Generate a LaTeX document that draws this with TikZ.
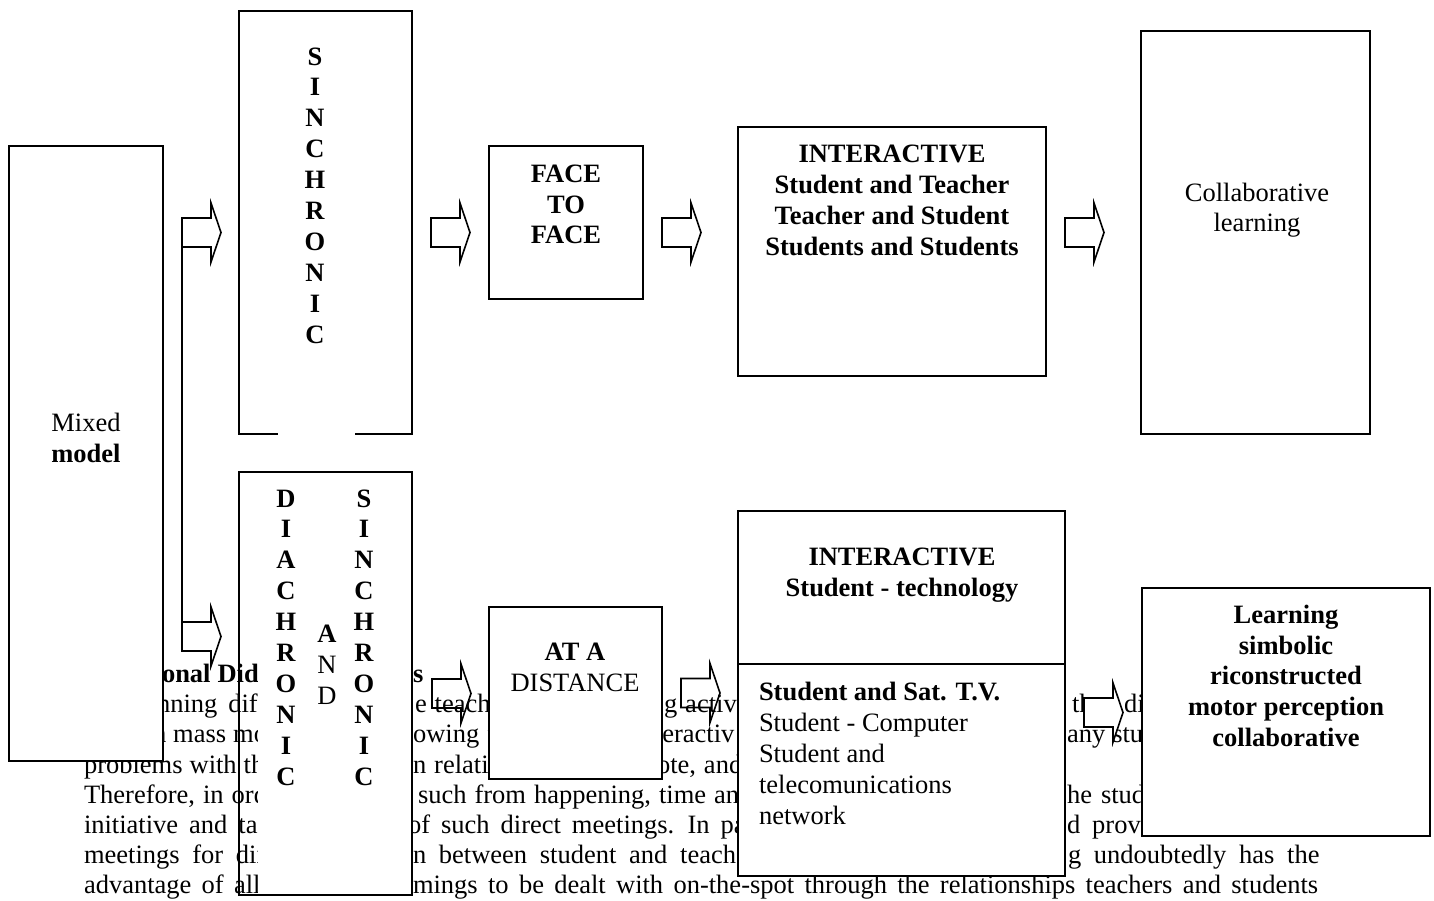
\documentclass[tikz,border=0pt]{standalone}
\usepackage{fontspec}
\setmainfont{Liberation Serif}
\usetikzlibrary{calc}
\newcommand\fs{\fontsize{26.5}{30.8}\selectfont}
\tikzset{
  boxr/.style={draw=black, line width=1.8pt, fill=white, inner sep=0pt, outer sep=0pt, anchor=north west},
  lbl/.style={inner sep=0pt, outer sep=0pt, anchor=base, font=\fs},
  lblb/.style={inner sep=0pt, outer sep=0pt, anchor=base, font=\fs\bfseries},
  lbll/.style={inner sep=0pt, outer sep=0pt, anchor=base west, font=\fs},
  bgt/.style={inner sep=0pt, outer sep=0pt, anchor=base west, font=\fs},
  barrow/.style={draw=black, line width=1.6pt, line join=miter},
  divl/.style={draw=black, line width=1.8pt},
}
\newcommand\frag[5]{\node[bgt] (#1) at (#2,#3) {\spaceskip=#4pt\relax #5};}
\newcommand\blockarrow[4]{%
  \draw[barrow, fill=#4] (#2,#3-14.5) -- ++(29,0) -- ++(0,-15) -- ++(10,29.5) coordinate (#1) -- ++(-10,29.5) -- ++(0,-15) -- ++(-29,0) -- cycle;}
\begin{document}
\begin{tikzpicture}[x=1pt,y=-1pt]
\fill[white] (0,0) rectangle (1434,900);
\useasboundingbox (0,0) rectangle (1434,900);

% ---------- background paragraph fragments ----------
\frag{h1a}{162}{682}{7}{\bfseries onal Did}
\frag{h1b}{413}{682}{7}{\bfseries s}
\frag{l2a}{157}{712}{11}{nning dif}
\frag{l2b}{415}{712}{8}{e teachi}
\frag{l2c}{664}{712}{8}{g activit}
\frag{l2d}{1072}{712}{8}{th}
\frag{l2e}{1124}{712}{8}{di}
\frag{l3a}{153}{742.5}{7}{h mass mo}
\frag{l3b}{413}{742.5}{8}{owing f}
\frag{l3c}{655}{742.5}{8}{teractiv}
\frag{l3d}{1067}{742.5}{7}{any stu}
\frag{l4a}{84}{773}{7}{problems with th}
\frag{l4b}{413}{773}{8}{n relati}
\frag{l4c}{657}{773}{8}{ote, and}
\frag{l5a}{84}{803}{8}{Therefore, in ord}
\frag{l5b}{418}{803}{8}{such from happening, time and}
\frag{l5c}{1067}{803}{9}{he stud}
\frag{l6a}{84}{833}{11}{initiative and tal}
\frag{l6b}{408}{833}{11}{of such direct meetings. In pa}
\frag{l6c}{1067}{833}{12}{d provi}
\frag{l7a}{84}{863}{12.7}{meetings for dir}
\frag{l7b}{413}{863}{12.7}{n between student and teache}
\frag{l7c}{1068}{863}{12.7}{g undoubtedly has the}
\frag{l8a}{84}{893}{10.3}{advantage of all}
\frag{l8b}{413}{893}{10.3}{mings to be dealt with on-the-spot through the relationships teachers and students}

% ---------- boxes ----------
\node[boxr, minimum width=154pt, minimum height=615pt] (mixed) at (9,146) {};
\node[boxr, minimum width=173pt, minimum height=423pt] (sinc) at (239,11) {};
\fill[white] (258,472) rectangle (412,895);
\node[boxr, fill=none, minimum width=173pt, minimum height=423pt] (diasinc) at (239,472) {};
\node[boxr, minimum width=154pt, minimum height=153pt] (face) at (489,146) {};
\node[boxr, minimum width=308pt, minimum height=249pt] (inter1) at (738,127) {};
\node[boxr, minimum width=229pt, minimum height=403pt] (collab) at (1141,31) {};
\node[boxr, minimum width=173pt, minimum height=172pt] (dist) at (489,607) {};
\node[boxr, minimum width=327pt, minimum height=365pt] (inter2) at (738,511) {};
\draw[divl] ($(inter2.north west)+(0,153)$) -- ($(inter2.north east)+(0,153)$);
\node[boxr, minimum width=288pt, minimum height=248pt] (learn) at (1142,588) {};
\draw[white, line width=3pt] ($(sinc.south west)+(39,0)$) -- ($(sinc.south west)+(116,0)$);

% ---------- box texts ----------
\node[lbl] (tmixed) at (86,431) {Mixed};
\node[lblb] (tmodel) at (86,462) {model};

\foreach \L [count=\i from 0] in {S,I,N,C,H,R,O,N,I,C}
  \node[lblb] (sa\i) at (315,65+30.9*\i) {\L};
\foreach \L [count=\i from 0] in {D,I,A,C,H,R,O,N,I,C}
  \node[lblb] (da\i) at (286,507+30.9*\i) {\L};
\foreach \L [count=\i from 0] in {S,I,N,C,H,R,O,N,I,C}
  \node[lblb] (sb\i) at (364,507+30.9*\i) {\L};
\node[lblb] (and1) at (327,642) {A};
\node[lbl] (and2) at (327,673) {N};
\node[lbl] (and3) at (327,704) {D};

\node[lblb] (f1) at (566,182) {FACE};
\node[lblb] (f2) at (566,213) {TO};
\node[lblb] (f3) at (566,243) {FACE};

\node[lblb] (i1) at (892,162) {INTERACTIVE};
\node[lblb] (i2) at (892,193) {Student and Teacher};
\node[lblb] (i3) at (892,224) {Teacher and Student};
\node[lblb] (i4) at (892,255) {Students and Students};

\node[lbl] (c1) at (1257,201) {Collaborative};
\node[lbl] (c2) at (1257,231) {learning};

\node[lblb] (d1) at (575,660) {AT A};
\node[lbl] (d2) at (575,691) {DISTANCE};

\node[lblb] (j1) at (902,565) {INTERACTIVE};
\node[lblb] (j2) at (902,596) {Student - technology};
\node[lbll, font=\fs\bfseries] (k1) at (759,700) {Student and Sat. T.V.};
\node[lbll] (k2) at (759,731) {Student - Computer};
\node[lbll] (k3) at (759,762) {Student and};
\node[lbll] (k4) at (759,793) {telecomunications};
\node[lbll] (k5) at (759,824) {network};

\node[lblb] (m1) at (1286,623) {Learning};
\node[lblb] (m2) at (1286,654) {simbolic};
\node[lblb] (m3) at (1286,684) {riconstructed};
\node[lblb] (m4) at (1286,715) {motor perception};
\node[lblb] (m5) at (1286,746) {collaborative};

% ---------- arrows ----------
\coordinate (brtop) at (182,218);
\coordinate (brbot) at (182,651);
\draw[barrow] (brtop) -- (brbot);
\blockarrow{a1}{182}{232.5}{white}
\blockarrow{a2}{431}{232.5}{white}
\blockarrow{a3}{662}{232.5}{white}
\blockarrow{a4}{1065}{232.5}{white}
\blockarrow{a5}{182}{636.5}{white}
\blockarrow{a6}{432}{693.5}{none}
\blockarrow{a7}{681}{693}{none}
\blockarrow{a8}{1084}{712.5}{white}
\end{tikzpicture}
\end{document}
